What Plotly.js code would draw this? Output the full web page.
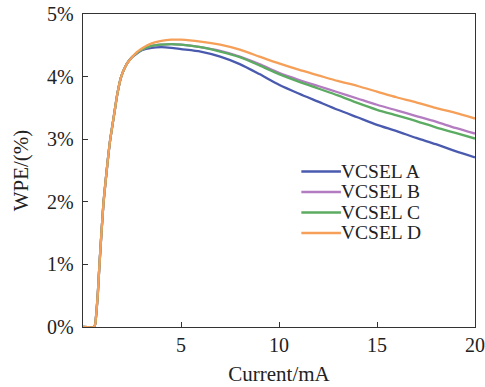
<!DOCTYPE html>
<html>
<head>
<meta charset="utf-8">
<script src="https://cdn.plot.ly/plotly-3.0.1.min.js"></script>
<style>html,body{margin:0;padding:0;background:#fff;}#chart{width:485px;height:387px;}</style>
</head>
<body>
<div id="chart"></div>
<script>
// Current (mA)
const current = [0, 0.55, 0.62, 0.66, 0.7, 0.75, 0.8, 0.85, 0.9, 0.95, 1.0, 1.05, 1.15, 1.25, 1.37, 1.5, 1.6, 1.75, 1.93, 2.1, 2.25, 2.5, 2.75, 3.0, 3.5, 4.0, 4.5, 5.0, 6, 7, 8, 9, 10, 11, 12, 13, 14, 15, 16, 17, 18, 19, 20];
// shared rising part (WPE %) up to 2.5 mA
const rise = [0, 0, 0.04, 0.15, 0.3, 0.5, 0.78, 1.05, 1.3, 1.55, 1.78, 2.0, 2.32, 2.62, 2.95, 3.22, 3.42, 3.72, 3.98, 4.12, 4.21, 4.31];
const wpeA = rise.concat([4.37, 4.42, 4.46, 4.47, 4.46, 4.44, 4.40, 4.32, 4.20, 4.04, 3.87, 3.73, 3.60, 3.47, 3.35, 3.23, 3.13, 3.02, 2.92, 2.81, 2.71]);
const wpeB = rise.concat([4.38, 4.43, 4.49, 4.51, 4.52, 4.51, 4.47, 4.41, 4.32, 4.20, 4.06, 3.95, 3.85, 3.75, 3.65, 3.55, 3.46, 3.37, 3.28, 3.18, 3.09]);
const wpeC = rise.concat([4.38, 4.43, 4.49, 4.51, 4.52, 4.51, 4.47, 4.40, 4.31, 4.18, 4.04, 3.92, 3.81, 3.70, 3.58, 3.47, 3.38, 3.29, 3.19, 3.10, 3.01]);
const wpeD = rise.concat([4.39, 4.45, 4.53, 4.57, 4.59, 4.59, 4.56, 4.51, 4.43, 4.32, 4.21, 4.11, 4.02, 3.93, 3.85, 3.76, 3.67, 3.59, 3.50, 3.42, 3.33]);
const names = ["VCSEL A", "VCSEL B", "VCSEL C", "VCSEL D"];
const colors = ["#4a5aae", "#b47cc0", "#5cab62", "#f59f58"];
const yTicks = [0, 1, 2, 3, 4, 5];
const yTickText = ["0%", "1%", "2%", "3%", "4%", "5%"];
const xTicks = [5, 10, 15, 20];

const series = [wpeA, wpeB, wpeC, wpeD];
const traces = series.map((y, i) => ({
  x: current, y: y, type: "scatter", mode: "lines", name: names[i],
  line: {color: colors[i], width: 2.3, shape: "spline", smoothing: 0.7}, showlegend: false
}));

const fam = "Liberation Serif, Times New Roman, serif";
const font = {family: fam, size: 20, color: "#222"};
const titleFont = {family: fam, size: 21, color: "#222"};
const legFont = {family: fam, size: 19.5, color: "#222"};
const annotations = [];
const shapes = [];
names.forEach((n, i) => {
  const yp = 0.497 - i * 0.0655;
  annotations.push({xref: "paper", yref: "paper", x: 0.655, y: yp, xanchor: "left", yanchor: "middle",
    text: n, showarrow: false, font: legFont, borderpad: 0});
  shapes.push({type: "line", xref: "paper", yref: "paper", x0: 0.557, x1: 0.658, y0: yp, y1: yp,
    line: {color: colors[i], width: 2.5}});
});

const layout = {
  width: 485, height: 387,
  margin: {l: 83, r: 10, t: 14, b: 60},
  paper_bgcolor: "#fff", plot_bgcolor: "#fff",
  font: font,
  xaxis: {range: [0, 20], tickvals: xTicks, ticks: "inside", ticklen: 5, tickcolor: "#333",
    showline: true, linecolor: "#333", linewidth: 1.3, mirror: true, showgrid: false, zeroline: false,
    tickfont: font, title: {text: "Current/mA", font: titleFont, standoff: 11}},
  yaxis: {range: [0, 5], tickvals: yTicks, ticktext: yTickText, ticks: "inside", ticklen: 5, tickcolor: "#333",
    showline: true, linecolor: "#333", linewidth: 1.3, mirror: true, showgrid: false, zeroline: false,
    tickfont: font, ticklabelstandoff: 4, title: {text: "WPE/(%)", font: titleFont, standoff: 12}},
  annotations: annotations, shapes: shapes, showlegend: false
};
Plotly.newPlot("chart", traces, layout, {displayModeBar: false, staticPlot: true});
</script>
</body>
</html>
